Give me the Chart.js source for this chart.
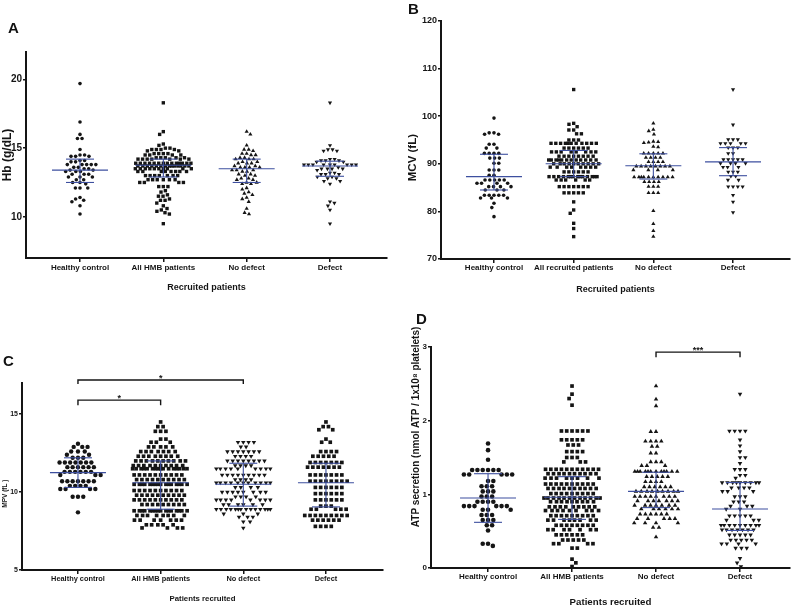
<!DOCTYPE html>
<html><head><meta charset="utf-8">
<script src="https://cdn.jsdelivr.net/npm/chart.js@4.4.1/dist/chart.umd.min.js"></script>
<style>
html,body{margin:0;padding:0;background:#fff;width:800px;height:607px;overflow:hidden;position:relative;font-family:"Liberation Sans",Arial,sans-serif;}
.pane{position:absolute;}
.pane canvas{display:block;}
.letter{position:absolute;font-weight:bold;font-size:15px;line-height:15px;color:#111;}
</style></head><body>
<div class="pane" style="left:0;top:0"><canvas id="cA" width="400" height="300"></canvas></div>
<div class="pane" style="left:400px;top:0"><canvas id="cB" width="400" height="300"></canvas></div>
<div class="pane" style="left:0;top:300px"><canvas id="cC" width="400" height="307"></canvas></div>
<div class="pane" style="left:400px;top:300px"><canvas id="cD" width="400" height="312"></canvas></div>
<div class="letter" style="left:8px;top:20px">A</div>
<div class="letter" style="left:408px;top:1px">B</div>
<div class="letter" style="left:3px;top:353px">C</div>
<div class="letter" style="left:416px;top:311px">D</div>
<script>
// ---------------- DATA ----------------
// Panel A: Hb (g/dL)
const catsA = ['Healthy control', 'All HMB patients', 'No defect', 'Defect'];
const ticksA = [10, 15, 20];
const hbHealthy = [19.7, 16.9, 16.0, 15.7, 15.7, 14.9,
  14.5, 14.5, 14.4, 14.4, 14.4, 14.1, 14.1, 14.0, 14.0,
  13.8, 13.8, 13.8, 13.8, 13.8, 13.6, 13.6, 13.5, 13.5,
  13.4, 13.4, 13.3, 13.3, 13.3, 13.1, 13.1, 13.1, 12.9, 12.9, 12.9,
  12.7, 12.7, 12.5, 12.5, 12.4, 12.1, 12.1, 12.1,
  11.4, 11.3, 11.2, 11.1, 10.8, 10.2];
const hbAll = [18.3, 16.2, 16.0, 15.3, 15.2,
  15.0, 15.0, 14.9, 14.9, 14.9, 14.9, 14.8, 14.8,
  14.6, 14.6, 14.6, 14.6, 14.5, 14.5, 14.5, 14.5,
  14.3, 14.3, 14.3, 14.3, 14.3, 14.2, 14.2, 14.2, 14.2, 14.2, 14.2, 14.2,
  13.9, 13.9, 13.9, 13.9, 13.9, 13.9, 13.9, 13.9, 13.9, 13.9, 13.9, 13.9, 13.9, 13.9,
  13.7, 13.7, 13.7, 13.7, 13.7, 13.7, 13.7, 13.7, 13.7, 13.7, 13.7, 13.7, 13.7, 13.7,
  13.5, 13.5, 13.5, 13.5, 13.5, 13.5, 13.5, 13.5, 13.5, 13.5,
  13.3, 13.3, 13.3, 13.3, 13.3, 13.3, 13.3, 13.3,
  13.0, 13.0, 13.0, 13.0, 13.0, 13.0, 13.0,
  12.7, 12.7, 12.7, 12.7, 12.7, 12.7,
  12.5, 12.5, 12.5, 12.5, 12.2, 12.2, 12.2,
  11.9, 11.8, 11.6, 11.5, 11.5, 11.3, 11.2, 11.2, 11.0,
  10.8, 10.6, 10.5, 10.4, 10.3, 10.2, 9.5];
const hbNoDefect = [16.2, 16.0, 15.2, 14.9, 14.9, 14.8,
  14.6, 14.6, 14.5, 14.5, 14.3, 14.3, 14.2, 14.2, 14.2,
  14.0, 14.0, 13.9, 13.9, 13.9, 13.7, 13.7, 13.6, 13.6, 13.6, 13.6,
  13.4, 13.4, 13.4, 13.3, 13.3, 13.1, 13.1, 13.0, 13.0,
  12.8, 12.8, 12.7, 12.7, 12.5, 12.5, 12.4, 12.4, 12.1, 12.0,
  11.8, 11.7, 11.6, 11.4, 11.3, 11.1, 10.6, 10.3, 10.2];
const hbDefect = [18.3, 15.2, 14.9, 14.9, 14.8, 14.8,
  14.2, 14.2, 14.1, 14.1, 14.1, 14.0, 14.0,
  13.8, 13.8, 13.8, 13.8, 13.8, 13.8, 13.8, 13.8, 13.8,
  13.6, 13.5, 13.5, 13.5, 13.5, 13.4, 13.2, 13.2, 13.1, 13.1, 13.1,
  12.9, 12.9, 12.8, 12.8, 12.6, 12.6, 12.4,
  11.1, 11.0, 10.8, 10.5, 9.5];
const medA = [13.4, 13.75, 13.5, 13.7];
const q1A = [12.5, 12.9, 12.5, 12.95];
const q3A = [14.2, 14.2, 14.2, 14.05];

// Panel B: MCV (fL)
const catsB = ['Healthy control', 'All recruited patients', 'No defect', 'Defect'];
const ticksB = [70, 80, 90, 100, 110, 120];
const mcvHealthy = [99.6, 96.5, 96.5, 96.2, 96.2, 94.1, 94.1, 93.3, 93.3,
  92.2, 92.2, 92.2, 92.2, 91.2, 91.2, 91.2, 90.1, 90.1,
  88.7, 88.7, 88.7, 87.6, 87.6, 86.6, 86.6, 86.6, 86.6, 86.6,
  85.9, 85.9, 85.9, 85.9, 85.2, 85.2, 85.2, 85.2, 84.5, 84.5, 84.5,
  83.4, 83.4, 83.4, 83.4, 83.4, 82.8, 82.8, 82.8, 81.7, 80.8, 78.9];
const mcvAll = [105.6, 98.5, 98.3, 97.8, 97.1, 97.1, 96.3, 96.3, 95.0, 95.0, 95.0,
  94.3, 94.3, 94.3, 94.3, 94.3, 94.3, 94.3, 94.3, 94.3, 94.3, 94.3,
  93.3, 93.3, 93.3, 93.3, 93.3, 93.3,
  92.5, 92.5, 92.5, 92.5, 92.5, 92.5, 92.5, 92.5,
  91.6, 91.6, 91.6, 91.6, 91.6, 91.6, 91.6, 91.6,
  90.8, 90.8, 90.8, 90.8, 90.8, 90.8, 90.8, 90.8, 90.8, 90.8, 90.8, 90.8,
  90.0, 90.0, 90.0, 90.0, 90.0, 90.0, 90.0, 90.0, 90.0, 90.0,
  89.3, 89.3, 89.3, 89.3, 89.3, 89.3, 89.3, 89.3,
  88.3, 88.3, 88.3, 88.3, 88.3, 88.3,
  87.3, 87.3, 87.3, 87.3, 87.3, 87.3, 87.3, 87.3, 87.3, 87.3, 87.3, 87.3, 87.3, 87.3,
  86.6, 86.6, 86.6, 86.6, 86.6, 86.6,
  85.2, 85.2, 85.2, 85.2, 85.2, 85.2, 85.2,
  83.9, 83.9, 83.9, 83.9, 83.9,
  82.0, 80.3, 79.6, 77.5, 76.4, 74.7];
const mcvNoDefect = [98.5, 97.2, 96.9, 96.2, 94.7, 94.6, 94.5, 94.4, 93.6, 93.5,
  92.2, 92.2, 92.2, 92.2, 92.2, 91.3, 91.3, 91.3, 91.3, 90.4, 90.4, 90.4, 90.4,
  89.5, 89.5, 89.5, 89.5, 89.5, 89.5, 89.5, 89.5, 88.7, 88.7, 88.7, 88.7,
  87.2, 87.2, 87.2, 87.2, 87.2, 87.2, 87.2, 87.2, 87.2, 87.2,
  86.2, 86.2, 86.2, 86.2, 85.2, 85.2, 85.2, 83.9, 83.9, 83.9,
  80.1, 77.4, 75.9, 74.7];
const mcvDefect = [105.6, 98.2, 95.1, 95.1, 95.1, 94.3, 94.3, 94.3, 94.3, 94.3,
  93.4, 93.4, 93.4, 92.2, 92.2, 90.9, 90.9, 90.9, 90.9, 90.9, 90.1, 90.1, 90.1, 90.1,
  89.3, 89.3, 89.3, 88.3, 88.3, 88.3, 87.4, 87.4, 86.6, 86.6,
  85.2, 85.2, 85.2, 85.2, 83.4, 82.0, 79.8];
const medB = [87.3, 90.0, 89.6, 90.4];
const q1B = [84.5, 87.3, 86.8, 87.5];
const q3B = [92.0, 92.8, 92.1, 93.4];

// Panel C: MPV (fL)
const catsC = ['Healthy control', 'All HMB patients', 'No defect', 'Defect'];
const ticksC = [5, 10, 15];
const mpvHealthy = [13.1, 12.9, 12.9, 12.9, 12.6, 12.6, 12.6, 12.4, 12.4, 12.2, 12.2, 12.2,
  11.9, 11.9, 11.9, 11.9, 11.9, 11.9, 11.9, 11.6, 11.6, 11.6, 11.6, 11.6, 11.6,
  11.3, 11.3, 11.3, 11.3, 11.3, 11.3, 11.1, 11.1, 11.1,
  10.7, 10.7, 10.7, 10.7, 10.7, 10.7, 10.7, 10.4, 10.4, 10.4, 10.4,
  10.2, 10.2, 10.2, 10.2, 9.7, 9.7, 9.7, 8.7];
const mpvAll = [14.5, 14.2, 14.2, 13.9, 13.9, 13.9, 13.4, 13.4, 13.2, 13.2, 13.2,
  12.9, 12.9, 12.9, 12.9, 12.9, 12.6, 12.6, 12.6, 12.6, 12.6, 12.6, 12.6,
  12.3, 12.3, 12.3, 12.3, 12.3, 12.3, 12.3, 12.3,
  12.0, 12.0, 12.0, 12.0, 12.0, 12.0, 12.0, 12.0, 12.0, 12.0,
  11.7, 11.7, 11.7, 11.7, 11.7, 11.7, 11.7, 11.7, 11.7, 11.7,
  11.5, 11.5, 11.5, 11.5, 11.5, 11.5, 11.5, 11.5, 11.5, 11.5, 11.5, 11.5, 11.5, 11.5, 11.5, 11.5,
  11.1, 11.1, 11.1, 11.1, 11.1, 11.1, 11.1, 11.1, 11.1, 11.1,
  10.8, 10.8, 10.8, 10.8, 10.8, 10.8, 10.8, 10.8, 10.8, 10.8,
  10.5, 10.5, 10.5, 10.5, 10.5, 10.5, 10.5, 10.5, 10.5, 10.5, 10.5, 10.5, 10.5, 10.5, 10.5, 10.5,
  10.1, 10.1, 10.1, 10.1, 10.1, 10.1, 10.1, 10.1, 10.1, 10.1,
  9.8, 9.8, 9.8, 9.8, 9.8, 9.8, 9.8, 9.8, 9.8, 9.8,
  9.5, 9.5, 9.5, 9.5, 9.5, 9.5, 9.5, 9.5, 9.5, 9.5,
  9.2, 9.2, 9.2, 9.2, 9.2, 9.2, 9.2, 9.2, 9.2,
  8.8, 8.8, 8.8, 8.8, 8.8, 8.8, 8.8, 8.8, 8.8, 8.8, 8.8, 8.8, 8.8, 8.8, 8.8, 8.8,
  8.5, 8.5, 8.5, 8.5, 8.5, 8.5, 8.5, 8.5,
  8.2, 8.2, 8.2, 8.2, 8.2, 8.2, 8.2, 7.9, 7.9, 7.9, 7.9, 7.9, 7.7, 7.7, 7.7, 7.7];
const mpvNoDefect = [13.2, 13.2, 13.2, 13.2, 12.9, 12.9,
  12.6, 12.6, 12.6, 12.6, 12.6, 12.6, 12.6, 12.3, 12.3, 12.3, 12.3,
  12.0, 12.0, 12.0, 12.0, 12.0, 12.0, 12.0, 12.0, 11.7, 11.7, 11.7, 11.7,
  11.5, 11.5, 11.5, 11.5, 11.5, 11.5, 11.5, 11.5, 11.5,
  11.1, 11.1, 11.1, 11.1, 11.1, 11.1, 11.1, 11.1, 11.1, 10.8, 10.8, 10.8, 10.8,
  10.6, 10.6, 10.6, 10.6, 10.6, 10.6, 10.6, 10.6, 10.6, 10.6, 10.6,
  10.3, 10.3, 10.3, 10.3, 10.0, 10.0, 10.0, 10.0, 10.0, 10.0, 10.0, 10.0,
  9.7, 9.7, 9.7, 9.7, 9.5, 9.5, 9.5, 9.5, 9.5, 9.5, 9.5, 9.5,
  9.2, 9.2, 9.2, 9.2, 9.2, 9.2,
  8.9, 8.9, 8.9, 8.9, 8.9, 8.9, 8.9, 8.9, 8.9, 8.9, 8.9, 8.9, 8.9, 8.9,
  8.6, 8.6, 8.6, 8.4, 8.4, 8.4, 8.1, 8.1, 7.7];
const mpvDefect = [14.5, 14.2, 14.2, 14.0, 14.0, 13.4, 13.2, 13.2,
  12.6, 12.6, 12.6, 12.6, 12.3, 12.3, 12.3, 12.3, 12.3,
  11.9, 11.9, 11.9, 11.9, 11.9, 11.9, 11.9, 11.6, 11.6, 11.6, 11.6, 11.6, 11.6, 11.6,
  11.1, 11.1, 11.1, 11.1, 11.1, 11.1, 11.1, 10.7, 10.7, 10.7, 10.7, 10.7, 10.7, 10.7, 10.7,
  10.3, 10.3, 10.3, 10.3, 10.3, 10.3, 9.9, 9.9, 9.9, 9.9, 9.9, 9.9,
  9.5, 9.5, 9.5, 9.5, 9.5, 9.5, 9.1, 9.1, 9.1, 8.9, 8.9, 8.9, 8.9, 8.9,
  8.5, 8.5, 8.5, 8.5, 8.5, 8.5, 8.5, 8.5, 8.5, 8.2, 8.2, 8.2, 8.2, 8.2, 8.2,
  7.8, 7.8, 7.8, 7.8];
const medC = [11.25, 10.6, 10.5, 10.6];
const q1C = [10.3, 8.9, 9.1, 9.05];
const q3C = [12.2, 12.0, 11.85, 11.85];
const bracketsC = [
  { from: 1, to: 3, top: 17.19, tip: 16.93, label: '*' },
  { from: 1, to: 2, top: 15.9, tip: 15.58, label: '*' }
];

// Panel D: ATP secretion
const catsD = ['Healthy control', 'All HMB patients', 'No defect', 'Defect'];
const ticksD = [0, 1, 2, 3];
const atpHealthy = [1.69, 1.60, 1.47, 1.33, 1.33, 1.33, 1.33, 1.33, 1.33,
  1.27, 1.27, 1.27, 1.27, 1.27, 1.18, 1.18, 1.11, 1.11, 1.11, 1.04, 1.04, 1.04,
  0.97, 0.97, 0.97, 0.90, 0.90, 0.90, 0.90, 0.84, 0.84, 0.84, 0.84, 0.84, 0.84,
  0.79, 0.79, 0.79, 0.72, 0.72, 0.72, 0.65, 0.65, 0.65, 0.58, 0.58, 0.51,
  0.33, 0.33, 0.30];
const atpAll = [2.47, 2.36, 2.30, 2.21, 1.86, 1.86, 1.86, 1.86, 1.86, 1.86,
  1.74, 1.74, 1.74, 1.74, 1.74, 1.67, 1.67, 1.67, 1.58, 1.58, 1.58, 1.58,
  1.50, 1.50, 1.50, 1.44, 1.44, 1.44,
  1.34, 1.34, 1.34, 1.34, 1.34, 1.34, 1.34, 1.34, 1.34, 1.34, 1.34,
  1.28, 1.28, 1.28, 1.28, 1.28, 1.28, 1.28, 1.28, 1.28, 1.28,
  1.22, 1.22, 1.22, 1.22, 1.22, 1.22, 1.22, 1.22,
  1.14, 1.14, 1.14, 1.14, 1.14, 1.14, 1.14, 1.14, 1.14, 1.14,
  1.08, 1.08, 1.08, 1.08, 1.08, 1.08, 1.08, 1.08, 1.08, 1.08,
  1.01, 1.01, 1.01, 1.01, 1.01, 1.01, 1.01, 1.01, 1.01,
  0.95, 0.95, 0.95, 0.95, 0.95, 0.95, 0.95, 0.95, 0.95, 0.95, 0.95, 0.95,
  0.90, 0.90, 0.90, 0.90, 0.90, 0.90, 0.90, 0.90, 0.90,
  0.83, 0.83, 0.83, 0.83, 0.83, 0.83, 0.83, 0.83, 0.83,
  0.78, 0.78, 0.78, 0.78, 0.78, 0.78, 0.78, 0.78, 0.78,
  0.71, 0.71, 0.71, 0.71, 0.71, 0.71, 0.71, 0.71, 0.71,
  0.65, 0.65, 0.65, 0.65, 0.65, 0.65, 0.65, 0.65,
  0.58, 0.58, 0.58, 0.58, 0.58, 0.58, 0.58, 0.58,
  0.52, 0.52, 0.52, 0.52, 0.52, 0.52, 0.52,
  0.45, 0.45, 0.45, 0.45, 0.45, 0.45, 0.38, 0.38, 0.38, 0.38, 0.38,
  0.33, 0.33, 0.33, 0.33, 0.27, 0.27, 0.12, 0.07, 0.02];
const atpNoDefect = [2.47, 2.29, 2.20, 1.85, 1.85, 1.72, 1.72, 1.72, 1.72, 1.65, 1.65,
  1.56, 1.56, 1.44, 1.44, 1.44, 1.39, 1.39, 1.39,
  1.31, 1.31, 1.31, 1.31, 1.31, 1.31, 1.31, 1.31, 1.31, 1.31, 1.31, 1.31,
  1.24, 1.24, 1.24, 1.24, 1.24, 1.17, 1.17, 1.17, 1.17,
  1.10, 1.10, 1.10, 1.10, 1.10, 1.10,
  1.04, 1.04, 1.04, 1.04, 1.04, 1.04, 1.04, 1.04, 1.04,
  0.97, 0.97, 0.97, 0.97, 0.97, 0.97, 0.97, 0.97,
  0.91, 0.91, 0.91, 0.91, 0.91, 0.91, 0.91, 0.85, 0.85, 0.85, 0.85, 0.85, 0.85, 0.85,
  0.80, 0.80, 0.80, 0.80, 0.80, 0.80, 0.73, 0.73, 0.73, 0.73, 0.73, 0.73,
  0.67, 0.67, 0.67, 0.67, 0.67, 0.61, 0.61, 0.61, 0.61, 0.55, 0.55, 0.42];
const atpDefect = [2.36, 1.86, 1.86, 1.86, 1.86, 1.74, 1.66, 1.58, 1.50, 1.50, 1.42,
  1.34, 1.34, 1.34, 1.26, 1.26, 1.22,
  1.16, 1.16, 1.16, 1.16, 1.16, 1.16, 1.16, 1.16, 1.16,
  1.09, 1.09, 1.09, 1.09, 1.04, 1.04, 1.04, 0.97, 0.97, 0.97, 0.90, 0.90, 0.90,
  0.84, 0.84, 0.84, 0.80, 0.80, 0.71, 0.71, 0.71, 0.71, 0.71, 0.65, 0.65, 0.65,
  0.58, 0.58, 0.58, 0.58, 0.58, 0.58, 0.58, 0.58, 0.58,
  0.52, 0.52, 0.52, 0.52, 0.52, 0.52, 0.52,
  0.45, 0.45, 0.45, 0.45, 0.45, 0.38, 0.38, 0.38, 0.38, 0.38,
  0.33, 0.33, 0.33, 0.33, 0.27, 0.27, 0.27, 0.13, 0.07, 0.02];
const medD = [0.95, 0.96, 1.04, 0.80];
const q1D = [0.62, 0.66, 0.82, 0.51];
const q3D = [1.28, 1.24, 1.30, 1.16];
const bracketsD = [{ from: 3, to: 4, top: 2.93, tip: 2.86, label: '***' }];

// ---------------- STYLE / RENDER ----------------
const FONT = '"Liberation Sans", Arial, Helvetica, sans-serif';
const INK = '#151515';
const BLUE = '#3d4f9f';
const NB = '\u00A0';

const panels = [
  { id: 'cA', cats: catsA, groups: [hbHealthy, hbAll, hbNoDefect, hbDefect],
    marks: ['circle', 'rect', 'triangle', 'down'], radii: [1.8, 2.4, 2.4, 2.4], halfW: [17, 28, 20, 26],
    yMin: 7, yMax: 22, yTicks: ticksA, xMin: 0.352, xMax: 4.684,
    pad: { top: 52, right: 13 }, yW: 26, xH: 42,
    yTitle: 'Hb (g/dL)', yTitleSize: 12, yTitlePad: 0, yTickSize: 10,
    xTitle: 'Recruited patients', xTitleSize: 9, xTitlePad: 6.6, xTickSize: 8, xTickPad: 1,
    med: medA, q1: q1A, q3: q3A, gap: 4.6, brackets: [] },
  { id: 'cB', cats: catsB, groups: [mcvHealthy, mcvAll, mcvNoDefect, mcvDefect],
    marks: ['circle', 'rect', 'triangle', 'down'], radii: [1.8, 2.4, 2.4, 2.4], halfW: [17, 25, 21, 15],
    yMin: 70, yMax: 120, yTicks: ticksB, xMin: 0.335, xMax: 4.715,
    pad: { top: 21, right: 10 }, yW: 41, xH: 41,
    yTitle: 'MCV (fL)' + NB.repeat(11), yTitleSize: 11.5, yTitlePad: 5.6, yTickSize: 9,
    xTitle: 'Recruited patients', xTitleSize: 9, xTitlePad: 4.6, xTickSize: 8, xTickPad: 0,
    med: medB, q1: q1B, q3: q3B, gap: 4.8, brackets: [] },
  { id: 'cC', cats: catsC, groups: [mpvHealthy, mpvAll, mpvNoDefect, mpvDefect],
    marks: ['circle', 'rect', 'down', 'rect'], radii: [2.2, 2.6, 2.6, 2.6], halfW: [27, 28, 27, 24],
    yMin: 5, yMax: 17, yTicks: ticksC, xMin: 0.323, xMax: 4.69,
    pad: { top: 83, right: 17 }, yW: 22, xH: 37,
    yTitle: 'MPV (fL )' + NB.repeat(19), yTitleSize: 6.5, yTitlePad: 1, yTickSize: 7,
    xTitle: 'Patients recruited', xTitleSize: 7.8, xTitlePad: 3.3, xTickSize: 7.4, xTickPad: 0.6,
    med: medC, q1: q1C, q3: q3C, gap: 5.3, brackets: bracketsC },
  { id: 'cD', cats: catsD, groups: [atpHealthy, atpAll, atpNoDefect, atpDefect],
    marks: ['circle', 'rect', 'triangle', 'down'], radii: [2.3, 2.6, 2.6, 2.6], halfW: [26, 28, 22, 19],
    yMin: 0, yMax: 3, yTicks: ticksD, xMin: 0.321, xMax: 4.595,
    pad: { top: 47, right: 10 }, yW: 31, xH: 44,
    yTitle: NB.repeat(22) + 'ATP secretion (nmol ATP / 1x10\u2078 platelets)', yTitleSize: 10, yTitlePad: 10, yTickSize: 8,
    xTitle: 'Patients recruited', xTitleSize: 9.7, xTitlePad: 3.5, xTickSize: 8, xTickPad: 0,
    med: medD, q1: q1D, q3: q3D, gap: 5.3, brackets: bracketsD }
];

const MED_HALF = 28, IQR_HALF = 14;

function starsPlugin(brackets) {
  return {
    id: 'stars',
    afterDatasetsDraw(chart) {
      const { ctx, scales: { x, y } } = chart;
      ctx.save();
      ctx.fillStyle = INK;
      ctx.font = 'bold 9px ' + FONT;
      ctx.textAlign = 'center';
      ctx.textBaseline = 'alphabetic';
      brackets.forEach(b => {
        const px = (x.getPixelForValue(b.from) + x.getPixelForValue(b.to)) / 2;
        const py = y.getPixelForValue(b.top);
        ctx.fillText(b.label, px, py + 1);
      });
      ctx.restore();
    }
  };
}

// beeswarm: horizontal pixel offsets so that marks do not overlap (capped at halfW)
function swarmOffsets(pys, d, halfW) {
  const order = pys.map((y, i) => i).sort((a, b) => pys[a] - pys[b]);
  const placed = [];
  const out = new Array(pys.length);
  let flip = 1;
  order.forEach(i => {
    const y = pys[i];
    const near = placed.filter(p => Math.abs(p.y - y) < d);
    const cands = [0];
    near.forEach(p => {
      const w = Math.sqrt(d * d - (p.y - y) * (p.y - y));
      cands.push(p.x + w, p.x - w);
    });
    cands.sort((a, b) => (Math.abs(a) - Math.abs(b)) || (flip * (a - b)));
    let best = null;
    for (const c of cands) {
      if (Math.abs(c) > halfW + 0.01) continue;
      if (near.every(p => (p.x - c) * (p.x - c) + (p.y - y) * (p.y - y) >= d * d - 0.05)) { best = c; break; }
    }
    if (best === null) {
      let score = -1;
      for (let c = -halfW; c <= halfW + 0.001; c += 0.5) {
        let m = Infinity;
        near.forEach(p => { m = Math.min(m, (p.x - c) * (p.x - c) + (p.y - y) * (p.y - y)); });
        if (m > score + 1e-6 || (Math.abs(m - score) < 1e-6 && Math.abs(c) < Math.abs(best))) { score = m; best = c; }
      }
    }
    flip = -flip;
    placed.push({ x: best, y });
    out[i] = best;
  });
  return out;
}

function build(p) {
  const canvas = document.getElementById(p.id);
  const datasets = p.groups.map((vals, i) => ({
    type: 'scatter',
    raw: vals, cat: i + 1, halfW: p.halfW[i],
    data: vals.map(v => ({ x: i + 1, y: v })),
    pointStyle: p.marks[i] === 'down' ? 'triangle' : p.marks[i],
    pointRotation: p.marks[i] === 'down' ? 180 : 0,
    pointRadius: p.radii[i], pointHoverRadius: p.radii[i],
    backgroundColor: INK, borderColor: INK, borderWidth: 0,
    order: 3
  }));
  const tickFont = s => ({ family: FONT, size: s, weight: 'bold' });
  const chart = new Chart(canvas, {
    type: 'scatter',
    data: { datasets },
    options: {
      responsive: false, animation: false, events: [],
      layout: { autoPadding: false, padding: { left: 0, top: p.pad.top, right: p.pad.right, bottom: 0 } },
      plugins: { legend: { display: false }, tooltip: { enabled: false } },
      scales: {
        x: {
          type: 'linear', min: p.xMin, max: p.xMax,
          afterBuildTicks: s => { s.ticks = p.cats.map((c, i) => ({ value: i + 1 })); },
          afterFit: s => { s.height = p.xH; },
          ticks: { autoSkip: false, maxRotation: 0, minRotation: 0, color: INK, font: tickFont(p.xTickSize),
            padding: p.xTickPad, callback: v => p.cats[Math.round(v) - 1] },
          grid: { drawOnChartArea: false, drawTicks: true, tickLength: 4, color: INK, lineWidth: 1.5 },
          border: { display: true, color: INK, width: 2 },
          title: { display: true, text: p.xTitle, color: INK, font: tickFont(p.xTitleSize), padding: { top: 0, bottom: p.xTitlePad } }
        },
        y: {
          type: 'linear', min: p.yMin, max: p.yMax,
          afterBuildTicks: s => { s.ticks = p.yTicks.map(v => ({ value: v })); },
          afterFit: s => { s.width = p.yW; },
          ticks: { color: INK, font: tickFont(p.yTickSize), padding: 1 },
          grid: { drawOnChartArea: false, drawTicks: true, tickLength: 3, color: INK, lineWidth: 1.5 },
          border: { display: true, color: INK, width: 2 },
          title: { display: true, text: p.yTitle, color: INK, font: tickFont(p.yTitleSize), padding: { top: p.yTitlePad, bottom: 0 } }
        }
      }
    },
    plugins: [starsPlugin(p.brackets)]
  });

  // place the points of each group as a beeswarm, through the chart's own scales
  const xs = chart.scales.x, ys = chart.scales.y;
  const unit = xs.getPixelForValue(2) - xs.getPixelForValue(1);
  chart.data.datasets.forEach(ds => {
    const pys = ds.raw.map(v => ys.getPixelForValue(v));
    const offs = swarmOffsets(pys, p.gap, ds.halfW);
    ds.data = ds.raw.map((v, k) => ({ x: ds.cat + offs[k] / unit, y: v }));
  });
  // median and interquartile lines
  const line = (pts, color, w, order, clip) => ({
    type: 'line', data: pts.map(q => ({ x: q[0], y: q[1] })), borderColor: color, borderWidth: w,
    pointRadius: 0, pointHoverRadius: 0, showLine: true, fill: false, tension: 0, order, clip
  });
  p.med.forEach((m, i) => {
    const c = i + 1;
    chart.data.datasets.push(line([[c - MED_HALF / unit, m], [c + MED_HALF / unit, m]], BLUE, 1.1, 1, true));
    chart.data.datasets.push(line([[c - IQR_HALF / unit, p.q1[i]], [c + IQR_HALF / unit, p.q1[i]]], BLUE, 1.1, 1, true));
    chart.data.datasets.push(line([[c - IQR_HALF / unit, p.q3[i]], [c + IQR_HALF / unit, p.q3[i]]], BLUE, 1.1, 1, true));
    chart.data.datasets.push(line([[c, p.q1[i]], [c, p.q3[i]]], BLUE, 1.1, 1, true));
  });
  // significance brackets
  p.brackets.forEach(b => {
    chart.data.datasets.push(line([[b.from, b.tip], [b.from, b.top], [b.to, b.top], [b.to, b.tip]], INK, 1.4, 0, false));
  });
  chart.update('none');
}

panels.forEach(build);
</script>
</body></html>
